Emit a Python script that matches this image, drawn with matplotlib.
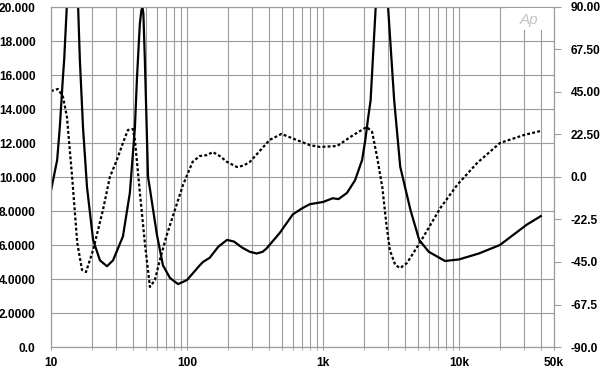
import matplotlib
matplotlib.use("Agg")
import matplotlib.pyplot as plt
from matplotlib.patches import Rectangle
from matplotlib.ticker import FixedLocator, NullFormatter

# Impedance magnitude (ohms), solid trace
freq_z = [10, 11.1, 11.6, 12.2, 12.5, 13.1, 14.4, 15.8, 16.3, 17.2, 18.4, 20.4,
          22.9, 25.8, 28.6, 33.8, 38, 41.4, 42.8, 45, 46.2, 47, 47.8, 49, 51.7, 53.4,
          60.1, 66.6, 75, 86, 100, 124, 131, 147, 170, 197, 222, 254, 290, 326,
          360, 385, 480, 600, 700, 800, 1000, 1180, 1300, 1500, 1720, 1940, 2050,
          2150, 2240, 2450, 2700, 3000, 3340, 3700, 4400, 5100, 6000, 7900, 10000,
          14000, 20000, 31600, 40000]
imp_ohms = [9.2, 11.0, 12.9, 15.7, 16.9, 20.2, 27.0, 20.2, 16.9, 12.9, 9.4, 6.3,
            5.1, 4.75, 5.1, 6.5, 9.06, 12.9, 15.7, 19.0, 19.8, 20.0, 19.6, 16.9, 10.0,
            9.3, 6.6, 4.8, 4.06, 3.7, 3.94, 4.8, 5.0, 5.25, 5.9, 6.3, 6.2, 5.85, 5.6,
            5.5, 5.6, 5.8, 6.7, 7.8, 8.15, 8.4, 8.53, 8.75, 8.7, 9.06, 9.8, 11.0,
            12.2, 13.5, 14.5, 20.2, 26.0, 20.2, 14.5, 10.6, 8.06, 6.3, 5.6, 5.06,
            5.15, 5.5, 6.0, 7.2, 7.7]

# Phase (degrees), dashed trace
freq_ph = [10, 11.25, 12.25, 13.1, 14.3, 15.6, 16.9, 18.1, 20.4, 24.1, 27.1, 30.5,
           33.8, 36.8, 40, 41.4, 45, 49, 53.4, 58.1, 63.2, 71, 93.5, 110, 124, 140,
           155, 175, 197, 233, 260, 290, 350, 405, 495, 640, 800, 950, 1270, 1670,
           2100, 2300, 2500, 2730, 2920, 3100, 3400, 3700, 4150, 5200, 7300, 9700,
           13600, 20000, 30000, 40000]
phase_deg = [45.5, 46.6, 42.4, 31.8, 0, -34.9, -49.2, -50.3, -38.6, -17.5, 0, 9,
             18, 24.9, 25.4, 19.6, -8, -34.9, -58.2, -54.5, -43.9, -30.7, -4.2, 8,
             11.1, 11.6, 13.2, 11.0, 8, 5.3, 6.0, 8, 14.5, 19.6, 22.8, 19.6, 16.9,
             15.9, 16.4, 22.2, 26.5, 23.8, 10.6, -5.3, -24.4, -38.6, -46.6, -48.2,
             -45.5, -34.4, -16.4, -4.2, 7.4, 18, 22.2, 24.4]

x_ticks = [10, 100, 1000, 10000, 50000]
x_labels = ["10", "100", "1k", "10k", "50k"]
z_ticks = [0, 2, 4, 6, 8, 10, 12, 14, 16, 18, 20]
z_labels = ["0.0", "2.0000", "4.0000", "6.0000", "8.0000", "10.000",
            "12.000", "14.000", "16.000", "18.000", "20.000"]
ph_ticks = [-90, -67.5, -45, -22.5, 0, 22.5, 45, 67.5, 90]
ph_labels = ["-90.0", "-67.5", "-45.0", "-22.5", "0.0", "22.50", "45.00", "67.50", "90.00"]

plt.rcParams["font.family"] = ["Liberation Sans", "DejaVu Sans"]
grid_col = "#9c9c9c"

fig = plt.figure(figsize=(6, 3.71), dpi=100)
ax = fig.add_axes([51 / 600, 24 / 371, 503 / 600, 340 / 371])
ax2 = ax.twinx()

ax.set_xscale("log")
ax.set_xlim(10, 50000)
ax.set_ylim(0, 20)
ax2.set_ylim(-90, 90)

minor = [m * 10 ** d for d in range(1, 5) for m in range(2, 10) if m * 10 ** d < 50000]
ax.xaxis.set_major_locator(FixedLocator(x_ticks))
ax.xaxis.set_minor_locator(FixedLocator(minor))
ax.xaxis.set_minor_formatter(NullFormatter())
ax.set_xticklabels(x_labels)
ax.set_yticks(z_ticks)
ax.set_yticklabels(z_labels)
ax2.set_yticks(ph_ticks)
ax2.set_yticklabels(ph_labels)

ax.grid(True, which="both", color=grid_col, lw=0.8)
ax.set_axisbelow(True)
for a in (ax, ax2):
    for s in a.spines.values():
        s.set_color(grid_col)
        s.set_linewidth(0.8)

ax.tick_params(axis="x", which="both", length=2, color=grid_col, pad=5,
               labelsize=8.6)
ax.tick_params(axis="y", length=0, pad=11, labelsize=8.6)
ax2.tick_params(axis="y", length=5, color=grid_col, pad=7, labelsize=8.6)
for lab in ax.get_xticklabels() + ax.get_yticklabels() + ax2.get_yticklabels():
    lab.set_fontweight("bold")

ax.plot(freq_z, imp_ohms, color="black", lw=1.6, solid_joinstyle="round")
ax2.plot(freq_ph, phase_deg, color="black", lw=1.6, linestyle=(0, (1.3, 1.0)))

# Audio Precision logo box in the top-right corner
ax2.add_patch(Rectangle((0.905, 0.932), 0.092, 0.065, transform=ax2.transAxes,
                        facecolor="white", edgecolor="none", zorder=3))
ax2.text(0.95, 0.962, "Ap", transform=ax2.transAxes, ha="center", va="center",
         fontsize=11, style="italic", color="#c4c4c4", zorder=4)

fig.savefig("out.png", dpi=100)
